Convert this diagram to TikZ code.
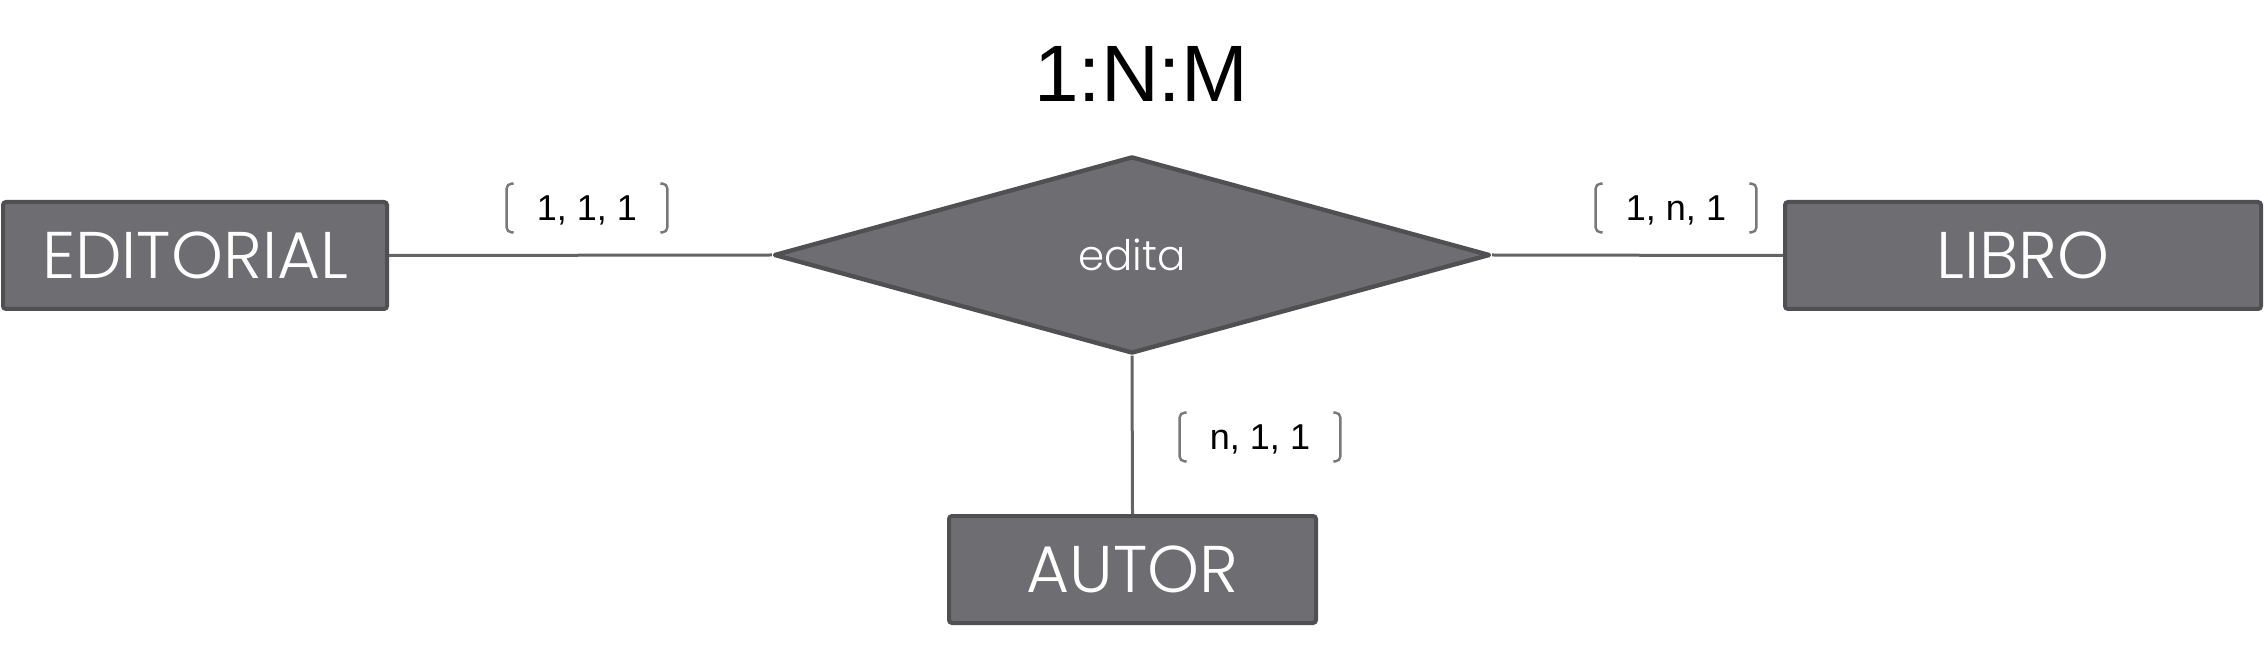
\documentclass[tikz,border=0pt]{standalone}
\usepackage{fontspec}
\setmainfont{Liberation Sans}
\newfontfamily\gothic{Poppins Light}
\usetikzlibrary{calc, shapes.geometric}
\tikzset{>=latex}
\definecolor{mygray1}{RGB}{110, 109, 114}
\definecolor{mygray2}{RGB}{80, 80, 82}
\definecolor{mygray3}{RGB}{100, 100, 102}
\definecolor{mygray4}{RGB}{120, 120, 122}
\tikzset{entity/.style = {draw = mygray2, fill = mygray1, line width = 2pt, rounded corners = 1.5pt, minimum height = 53.5pt, inner sep = 0pt, text = white, font = \gothic\fontsize{33}{33}\selectfont}}
\tikzset{card/.style = {minimum width = 80pt, minimum height = 24pt, inner sep = 0pt, text depth = 0pt, font = \fontsize{18}{18}\selectfont}}
\tikzset{link/.style = {mygray3, line width = 1.5pt}}
\newcommand{\cardbrackets}[1]{%
\draw[mygray4, line width = 1.2pt, rounded corners = 2.5pt] ([xshift = 3.5pt]#1.north west) -- (#1.north west) -- (#1.south west) -- ([xshift = 3.5pt]#1.south west);
\draw[mygray4, line width = 1.2pt, rounded corners = 2.5pt] ([xshift = -3.5pt]#1.north east) -- (#1.north east) -- (#1.south east) -- ([xshift = -3.5pt]#1.south east);}

\begin{document}
\begin{tikzpicture}[x = 0.5pt, y = -0.5pt]
\useasboundingbox (0, 0) rectangle (2265, 646);
\node[font = \fontsize{40}{40}\selectfont] (title) at (1141, 74) {1:N:M};

\node[diamond, draw = mygray2, fill = mygray1, line width = 2.2pt, line join = round, aspect = 3.6, minimum width = 358pt, minimum height = 98.5pt, inner sep = 0pt, text = white, font = \gothic\fontsize{21}{21}\selectfont] (edita) at (1132, 255) {edita};

\node[entity, minimum width = 192pt] (editorial) at (195, 255.5) {EDITORIAL};
\node[entity, minimum width = 238pt] (libro) at (2023, 255.5) {LIBRO};
\node[entity, minimum width = 183.5pt] (autor) at (1132.5, 569.5) {AUTOR};

\draw[link] (editorial.east) -- (edita.west);
\draw[link] (edita.east) -- (libro.west);
\draw[link] (edita.south) -- (autor.north);

\node[card] (card1) at (587, 208) {1, 1, 1};
\cardbrackets{card1}
\node[card] (card2) at (1676, 208) {1, n, 1};
\cardbrackets{card2}
\node[card] (card3) at (1260, 437) {n, 1, 1};
\cardbrackets{card3}
\end{tikzpicture}
\end{document}
